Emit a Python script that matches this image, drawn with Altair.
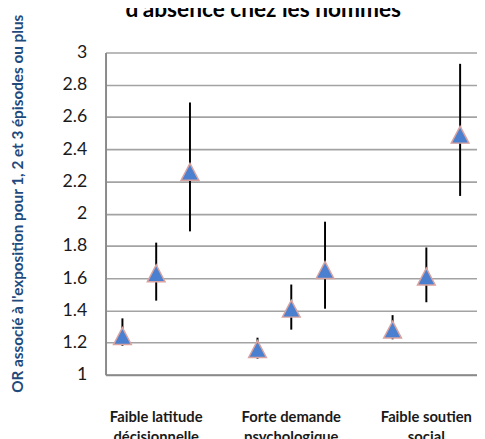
import altair as alt
import pandas as pd

# ---- data ----
categories = ["Faible latitude\ndécisionnelle", "Forte demande\npsychologique", "Faible soutien\nsocial"]
series = ["1 épisode", "2 épisodes", "3 épisodes ou plus"]

or_estimate = [1.24, 1.63, 2.26, 1.16, 1.41, 1.65, 1.28, 1.61, 2.49]
ci_low = [1.18, 1.46, 1.89, 1.10, 1.28, 1.41, 1.22, 1.45, 2.11]
ci_high = [1.35, 1.82, 2.69, 1.23, 1.56, 1.95, 1.37, 1.79, 2.93]

title_text = "d'absence chez les hommes"
y_title = "OR associé à l'exposition pour 1, 2 et 3 épisodes ou plus"
y_ticks = [1.0, 1.2, 1.4, 1.6, 1.8, 2.0, 2.2, 2.4, 2.6, 2.8, 3.0]

rows = []
for gi, cat in enumerate(categories):
    for si, s in enumerate(series):
        k = gi * 3 + si
        rows.append({
            "cat": cat,
            "series": s,
            "pos": gi * 4 + si,
            "or": or_estimate[k],
            "lo": ci_low[k],
            "hi": ci_high[k],
        })
df = pd.DataFrame(rows)
lab_df = pd.DataFrame({"cat": categories, "pos": [gi * 4 + 1 for gi in range(len(categories))]})
title_df = pd.DataFrame({"t": [title_text]})

W, H = 377, 327

xs = alt.Scale(domain=[-0.5, 10.5], nice=False, zero=False)
ys = alt.Scale(domain=[1, 3], nice=False, zero=False)

base = alt.Chart(df)

bars = base.mark_rule(color="black", strokeWidth=2).encode(
    x=alt.X("pos:Q", scale=xs,
            axis=alt.Axis(labels=False, ticks=False, grid=False, title=None,
                          domainColor="#8a8a8a", domainWidth=2)),
    y=alt.Y("lo:Q", scale=ys,
            axis=alt.Axis(values=y_ticks, tickCount=11, format=".1~f", title=y_title,
                          labelOverlap=False, labelBound=False, labelFlush=False,
                          grid=True, gridColor="#a3a3a3", gridWidth=1.6,
                          domainColor="#8a8a8a", domainWidth=2,
                          ticks=False, tickSize=0, labelPadding=19,
                          labelFont="Lato", labelFontSize=18, labelColor="#1a1a1a",
                          titleFont="Lato", titleFontSize=15.5, titleFontWeight="bold",
                          titleColor="#1F4A7C", titleAngle=-90, titleAlign="center",
                          titleBaseline="alphabetic", titleX=-84, titleY=153)),
    y2="hi:Q",
)

points = base.mark_point(
    shape="M0,-0.95L1,0.95L-1,0.95Z",
    filled=True, fill="#4A80CF", stroke="#D9A3A0", strokeWidth=1.5,
    size=324, opacity=1,
).encode(
    x=alt.X("pos:Q", scale=xs),
    y=alt.Y("or:Q", scale=ys),
)

xlabels = alt.Chart(lab_df).mark_text(
    font="Lato", fontSize=15, fontWeight="bold", color="#1a1a1a",
    lineBreak="\n", lineHeight=20, baseline="alphabetic", align="center",
).encode(
    x=alt.X("pos:Q", scale=xs),
    y=alt.value(H + 48),
    text="cat:N",
)

title = alt.Chart(title_df).mark_text(
    font="Lato", fontSize=23, fontWeight="bold", color="#000000",
    baseline="alphabetic", align="center",
).encode(
    x=alt.value(160),
    y=alt.value(-36),
    text="t:N",
)

chart = alt.layer(bars, points, xlabels, title).properties(
    width=W, height=H,
    autosize=alt.AutoSizeParams(type="none"),
    padding={"left": 99, "top": 42, "right": 0, "bottom": 62},
).configure_view(strokeWidth=0)

chart.save("out.html", embed_options={"renderer": "svg", "actions": False})
